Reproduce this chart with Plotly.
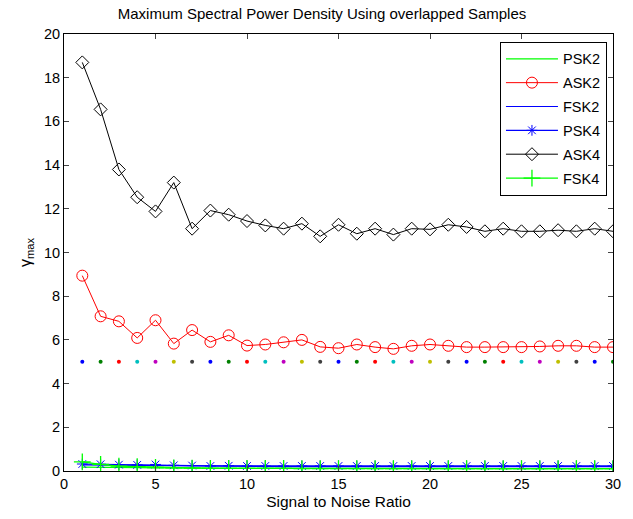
import plotly.graph_objects as go

snr = list(range(1, 31))

ask4 = [18.7, 16.55, 13.8, 12.53, 11.88, 13.2, 11.09, 11.92, 11.73, 11.44,
        11.24, 11.09, 11.32, 10.74, 11.27, 10.86, 11.09, 10.82, 11.09, 11.06,
        11.27, 11.17, 10.97, 11.09, 10.97, 10.97, 11.02, 10.97, 11.09, 10.97]
ask2 = [8.94, 7.08, 6.85, 6.09, 6.9, 5.83, 6.45, 5.91, 6.21, 5.74,
        5.79, 5.89, 6.0, 5.68, 5.62, 5.79, 5.67, 5.59, 5.73, 5.79,
        5.73, 5.67, 5.67, 5.67, 5.67, 5.7, 5.73, 5.73, 5.67, 5.67]
psk2 = [0.18, 0.16, 0.15, 0.15, 0.14, 0.13, 0.13, 0.12, 0.12, 0.12,
        0.12, 0.12, 0.12, 0.11, 0.11, 0.11, 0.11, 0.11, 0.11, 0.11,
        0.11, 0.11, 0.11, 0.11, 0.11, 0.11, 0.11, 0.11, 0.11, 0.11]
fsk2 = [0.28, 0.27, 0.26, 0.25, 0.25, 0.23, 0.22, 0.21, 0.21, 0.21,
        0.2, 0.2, 0.2, 0.2, 0.2, 0.2, 0.2, 0.2, 0.2, 0.2,
        0.2, 0.2, 0.2, 0.2, 0.2, 0.2, 0.2, 0.2, 0.2, 0.2]
psk4 = [0.32, 0.31, 0.29, 0.28, 0.3, 0.26, 0.25, 0.23, 0.24, 0.23,
        0.23, 0.23, 0.23, 0.23, 0.23, 0.23, 0.23, 0.23, 0.23, 0.23,
        0.23, 0.23, 0.23, 0.23, 0.23, 0.23, 0.23, 0.23, 0.23, 0.23]
fsk4 = [0.42, 0.3, 0.22, 0.2, 0.16, 0.14, 0.13, 0.12, 0.12, 0.12,
        0.12, 0.12, 0.11, 0.11, 0.11, 0.11, 0.11, 0.11, 0.11, 0.11,
        0.11, 0.11, 0.11, 0.11, 0.11, 0.11, 0.11, 0.11, 0.11, 0.11]
threshold = [5] * 30
dot_colors = ["#0000ff", "#008000", "#ff0000", "#00bfbf", "#bf00bf", "#bfbf00", "#404040"]

x_ticks = [0, 5, 10, 15, 20, 25, 30]
y_ticks = [0, 2, 4, 6, 8, 10, 12, 14, 16, 18, 20]

fig = go.Figure()

fig.add_trace(go.Scatter(x=snr, y=threshold, mode="markers", showlegend=False,
                         marker=dict(size=4, color=[dot_colors[i % 7] for i in range(30)])))

fig.add_trace(go.Scatter(x=snr, y=psk2, mode="lines", name="PSK2", legendgroup="a",
                         line=dict(color="#00ff00", width=1.2)))
fig.add_trace(go.Scatter(x=snr, y=ask2, mode="lines+markers", name="ASK2", legendgroup="b",
                         line=dict(color="#ff0000", width=1),
                         marker=dict(symbol="circle-open", size=11, color="#ff0000",
                                     line=dict(width=1))))
fig.add_trace(go.Scatter(x=snr, y=fsk2, mode="lines", name="FSK2", legendgroup="c",
                         line=dict(color="#0000ff", width=1.2)))
fig.add_trace(go.Scatter(x=snr, y=psk4, mode="lines+markers", name="PSK4", legendgroup="d",
                         line=dict(color="#0000ff", width=1.2),
                         marker=dict(symbol="asterisk-open", size=9, color="#0000ff",
                                     line=dict(width=1, color="#0000ff"))))
fig.add_trace(go.Scatter(x=snr, y=ask4, mode="lines+markers", name="ASK4", legendgroup="e",
                         line=dict(color="#000000", width=1),
                         marker=dict(symbol="diamond-open", size=10, color="#000000",
                                     line=dict(width=1))))
fig.add_trace(go.Scatter(x=snr, y=fsk4, mode="lines+markers", name="FSK4", legendgroup="f",
                         line=dict(color="#00ff00", width=1.2),
                         marker=dict(symbol="cross-thin-open", size=12, color="#00ff00",
                                     line=dict(width=1.3, color="#00ff00"))))

font = "Liberation Sans, Arial, sans-serif"
fig.update_layout(
    width=633, height=519,
    margin=dict(l=64, r=20, t=34, b=45),
    paper_bgcolor="white", plot_bgcolor="white",
    font=dict(family=font, size=14, color="black"),
    title=dict(text="Maximum Spectral Power Density Using overlapped Samples",
               x=0.47, xref="paper", xanchor="center", y=0.973, yanchor="middle",
               font=dict(size=15)),
    legend=dict(x=0.989, y=0.982, xanchor="right", yanchor="top",
                bgcolor="white", bordercolor="black", borderwidth=1,
                font=dict(size=14.5), tracegroupgap=2, itemwidth=52),
    showlegend=True,
)
fig.update_xaxes(range=[0, 30], tickvals=x_ticks, ticks="inside", ticklen=5,
                 showline=True, linecolor="black", linewidth=1, mirror="ticks",
                 showgrid=False, zeroline=False, tickfont=dict(size=14.5),
                 title=dict(text="Signal to Noise Ratio", standoff=4, font=dict(size=15.5)))
fig.update_yaxes(range=[0, 20], tickvals=y_ticks, ticks="inside", ticklen=5,
                 showline=True, linecolor="black", linewidth=1, mirror="ticks",
                 showgrid=False, zeroline=False, tickfont=dict(size=14.5),
                 title=dict(text="γ<sub>max</sub>", standoff=8, font=dict(size=16)))

fig.write_html("out.html")
